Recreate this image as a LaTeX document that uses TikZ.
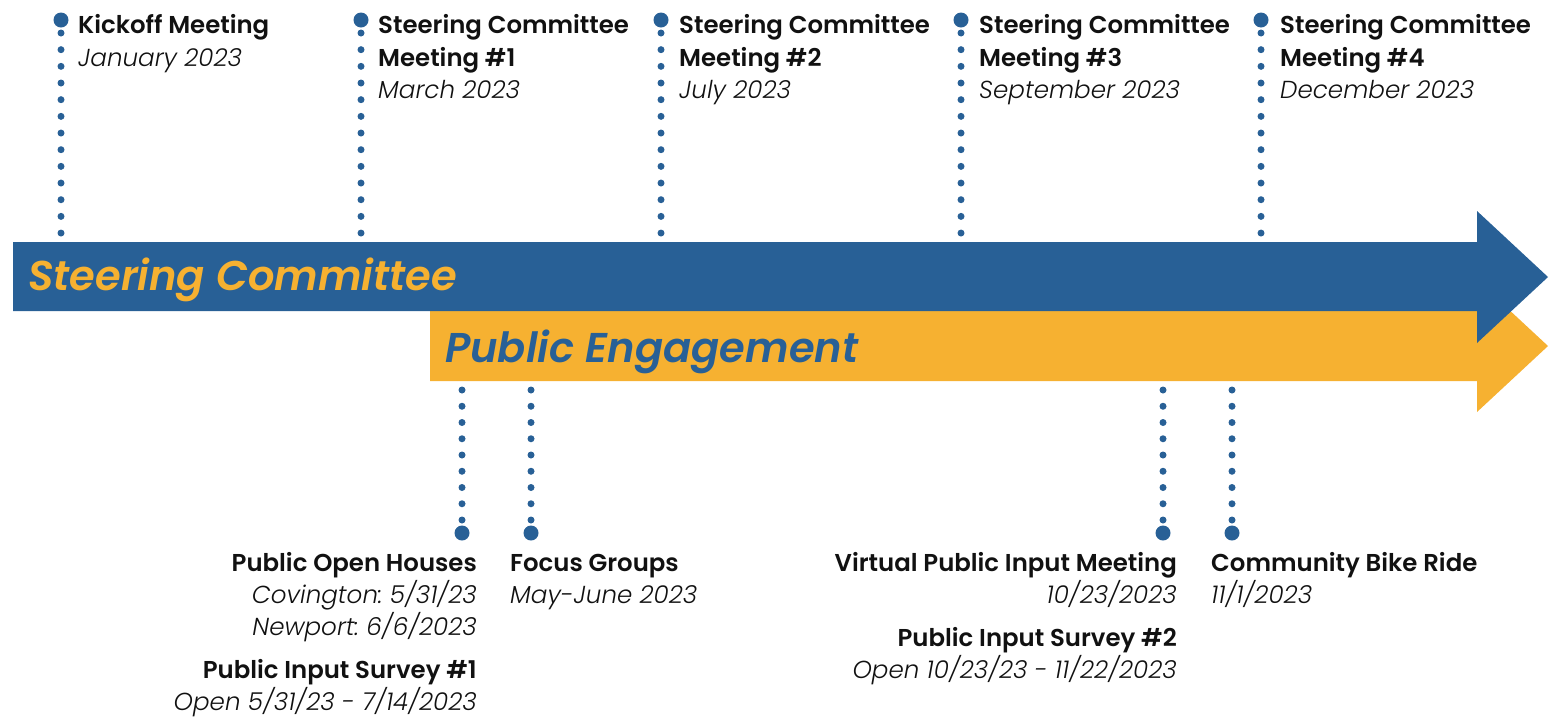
\documentclass[tikz,border=0pt]{standalone}
\usepackage{fontspec}
\setmainfont{Poppins}[BoldFont={Poppins SemiBold}, BoldItalicFont={Poppins SemiBold Italic}, ItalicFont={Poppins Light Italic}]
\frenchspacing
\definecolor{tlblue}{HTML}{286096}
\definecolor{tlyellow}{HTML}{F6B131}
\definecolor{tltext}{HTML}{111111}
\tikzset{
  ttl/.style={font=\fontsize{24.4}{30}\selectfont\bfseries, text=tltext, inner sep=0pt},
  sub/.style={font=\fontsize{24.6}{30}\selectfont\itshape, text=tltext, inner sep=0pt},
  bandlabel/.style={font=\fontsize{41.6}{48}\selectfont\bfseries\itshape, inner sep=0pt, anchor=base west},
  bigdot/.style={circle, fill=tlblue, minimum size=15pt, inner sep=0pt},
  dots/.style={draw=tlblue, line width=7pt, line cap=round, dash pattern=on 0pt off 16.67pt},
  dotsb/.style={draw=tlblue, line width=7pt, line cap=round, dash pattern=on 0pt off 16.25pt},
}
\begin{document}
\begin{tikzpicture}[x=1pt,y=-1pt]
\useasboundingbox (0,0) rectangle (1554,716);
% arrows
\fill[tlyellow] (430,311) -- (1477,311) -- (1477,280) -- (1548,346) -- (1477,412) -- (1477,381) -- (430,381) -- cycle;
\fill[tlblue] (13,242) -- (1477,242) -- (1477,211) -- (1548,277) -- (1477,343) -- (1477,311) -- (13,311) -- cycle;
\node[bandlabel, text=tlyellow] (sclab) at (28,290) {Steering Committee};
\node[bandlabel, text=tlblue] (pelab) at (445,362) {Public Engagement};
% top milestones
\foreach \i/\x in {1/61,2/361,3/661,4/961,5/1261}{
  \node[bigdot] (t\i) at (\x,20) {};
  \coordinate (te\i) at (\x,233.5);
  \draw[dots] (\x,33) -- (te\i);
}
\node[ttl, anchor=base west] (k1) at (78,33) {Kickoff Meeting};
\node[sub, anchor=base west] (k2) at (78,66) {January 2023};
\foreach \i/\x/\n/\d in {2/378/1/March 2023,3/679/2/July 2023,4/979/3/September 2023,5/1280/4/December 2023}{
  \node[ttl, anchor=base west] (s\i a) at (\x,33) {Steering Committee};
  \node[ttl, anchor=base west] (s\i b) at (\x,66) {Meeting \#\n};
  \node[sub, anchor=base west] (s\i c) at (\x,98) {\d};
}
% bottom milestones
\foreach \i/\x in {1/462,2/531,3/1163,4/1232}{
  \node[bigdot] (b\i) at (\x,533) {};
  \coordinate (be\i) at (\x,390);
  \draw[dotsb] (be\i) -- (\x,520.5);
}
\node[ttl, anchor=base east] (p1) at (477,571) {Public Open Houses};
\node[sub, anchor=base east] (p2) at (477,603) {Covington: 5/31/23};
\node[sub, anchor=base east] (p3) at (477,635) {Newport: 6/6/2023};
\node[ttl, anchor=base east] (p4) at (477,678) {Public Input Survey \#1};
\node[sub, anchor=base east] (p5) at (477,710) {Open 5/31/23 - 7/14/2023};
\node[ttl, anchor=base west] (f1) at (510,571) {Focus Groups};
\node[sub, anchor=base west] (f2) at (510,603) {May-June 2023};
\node[ttl, anchor=base east] (v1) at (1177,571) {Virtual Public Input Meeting};
\node[sub, anchor=base east] (v2) at (1177,603) {10/23/2023};
\node[ttl, anchor=base east] (v3) at (1177,646) {Public Input Survey \#2};
\node[sub, anchor=base east] (v4) at (1177,678) {Open 10/23/23 - 11/22/2023};
\node[ttl, anchor=base west] (c1) at (1211,571) {Community Bike Ride};
\node[sub, anchor=base west] (c2) at (1211,603) {11/1/2023};
\end{tikzpicture}
\end{document}
